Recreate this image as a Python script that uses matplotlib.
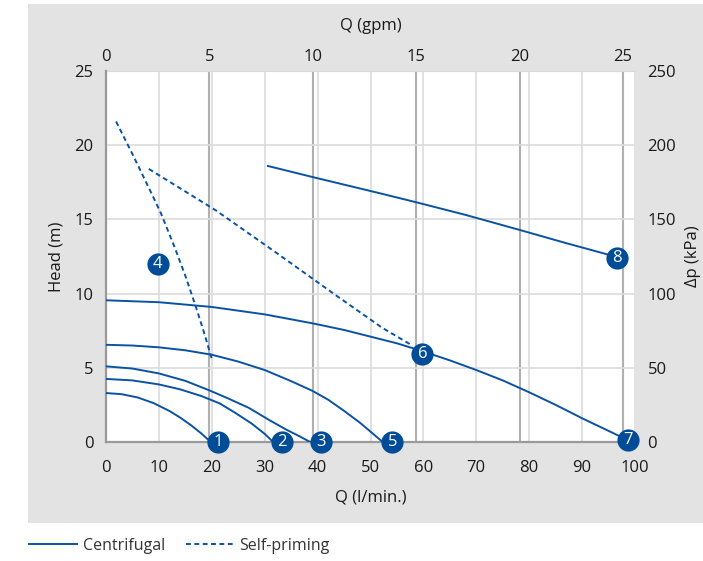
import matplotlib
matplotlib.use('Agg')
import matplotlib.pyplot as plt
from matplotlib.patches import Rectangle
from matplotlib.lines import Line2D

plt.rcParams['font.family'] = ['Open Sans', 'DejaVu Sans']

# 曲线数据 (Q l/min, Head m)
c1_q = [0, 3, 6, 9, 12, 14, 16, 18, 19.8]
c1_h = [3.3, 3.22, 3.0, 2.62, 2.09, 1.65, 1.15, 0.58, 0]

c2_q = [0, 5, 10, 14, 18, 21.5, 24.5, 27.5, 30, 31.6]
c2_h = [4.25, 4.15, 3.88, 3.55, 3.1, 2.6, 1.95, 1.25, 0.55, 0]

c3_q = [0, 5, 10, 15, 19.4, 23, 27, 31, 34, 36.5, 38.6]
c3_h = [5.1, 4.95, 4.62, 4.12, 3.5, 2.95, 2.3, 1.45, 0.85, 0.4, 0]

c5_q = [0, 5, 10, 15, 20, 25, 30, 35, 39, 42, 45, 48, 50, 52.3]
c5_h = [6.55, 6.5, 6.38, 6.18, 5.88, 5.42, 4.85, 4.1, 3.45, 2.85, 2.1, 1.3, 0.7, 0]

c67_q = [0, 10, 20, 30, 39, 45, 50, 55, 60, 65, 70, 75, 80, 85, 90, 95, 98.5]
c67_h = [9.55, 9.42, 9.1, 8.6, 8.0, 7.55, 7.1, 6.65, 6.1, 5.5, 4.85, 4.15, 3.35,
         2.5, 1.6, 0.75, 0.15]

c8_q = [30.6, 39.1, 51.9, 58.7, 68, 78.1, 87, 94.7, 96.6]
c8_h = [18.6, 17.85, 16.75, 16.15, 15.3, 14.3, 13.4, 12.65, 12.45]

# 自吸泵 (虚线)
sp1_q = [1.9, 5, 8, 10.4, 13, 15, 17, 18.6, 20.0]
sp1_h = [21.6, 19.4, 17.2, 15.4, 13.1, 11.2, 9.1, 7.3, 5.6]
sp2_q = [8.1, 20.8, 32, 43.8, 52.2, 57.9]
sp2_h = [18.4, 15.6, 12.8, 9.8, 7.7, 6.5]

# 编号标记
mark_labels = ['1', '2', '3', '4', '5', '6', '7', '8']
mark_q = [21.2, 33.3, 40.6, 9.8, 54.1, 59.8, 98.7, 96.6]
mark_h = [0, 0, 0, 12.0, 0, 5.95, 0.15, 12.4]

x_ticks = [0, 10, 20, 30, 40, 50, 60, 70, 80, 90, 100]
gpm_ticks = [0, 5, 10, 15, 20, 25]
y_ticks = [0, 5, 10, 15, 20, 25]
kpa_ticks = [0, 50, 100, 150, 200, 250]

BLUE = '#0A52A3'
MARK = '#004C97'
TXT = '#1a1a1a'


def main():
    # 整个图灰色，四周再补白边
    fig = plt.figure(figsize=(7.03, 5.61), dpi=100, facecolor='#e3e3e3')
    for r in [(0, 0, 28 / 703, 1), (0, 0, 1, 38 / 561), (0, 1 - 4 / 561, 1, 4 / 561)]:
        fig.patches.append(Rectangle((r[0], r[1]), r[2], r[3],
                                     transform=fig.transFigure, facecolor='white',
                                     edgecolor='none', zorder=0))

    ax = fig.add_axes([106 / 703, 119 / 561, 529 / 703, 371 / 561])
    ax_t = ax.twiny()
    ax_r = ax.twinx()

    ax_t.set_zorder(1)
    ax_r.set_zorder(2)
    ax.set_zorder(3)
    ax.patch.set_visible(False)
    ax_r.patch.set_visible(False)
    ax_t.patch.set_visible(False)
    # 白色绘图区，放在最底层的轴里
    ax_t.add_patch(Rectangle((0, 0), 1, 1, transform=ax_t.transAxes,
                             facecolor='white', edgecolor='none', zorder=-5))

    # 曲线
    for q, h in [(c1_q, c1_h), (c2_q, c2_h), (c3_q, c3_h), (c5_q, c5_h),
                 (c67_q, c67_h), (c8_q, c8_h)]:
        ax.plot(q, h, color=BLUE, lw=1.4, zorder=3)
    for q, h in [(sp1_q, sp1_h), (sp2_q, sp2_h)]:
        ax.plot(q, h, color=BLUE, lw=1.4, ls=(0, (2.5, 1.8)), zorder=3)

    for lab, q, h in zip(mark_labels, mark_q, mark_h):
        ax.plot(q, h, 'o', ms=16, color=MARK, mec='none', zorder=5, clip_on=False)
        ax.text(q, h, lab, color='white', fontsize=12, ha='center', va='center',
                zorder=6, clip_on=False)

    # 坐标轴
    ax.set_xlim(0, 100)
    ax.set_ylim(0, 25)
    ax.set_xticks(x_ticks)
    ax.set_yticks(y_ticks)
    ax.grid(True, color='#dcdcdc', lw=1.2)
    ax.set_axisbelow(True)
    ax.tick_params(length=0, labelsize=12, colors=TXT)
    ax.tick_params(axis='x', pad=13)
    ax.tick_params(axis='y', pad=9)
    ax.set_xlabel('Q (l/min.)', fontsize=12, color=TXT, labelpad=10)
    ax.set_ylabel('Head (m)', fontsize=12, color=TXT, labelpad=7)

    ax_t.set_xlim(0, 25.58)
    ax_t.set_xticks(gpm_ticks)
    ax_t.grid(True, axis='x', color='#b0b0b0', lw=1.5)
    ax_t.tick_params(length=0, labelsize=12, colors=TXT, pad=4)
    ax_t.set_xlabel('Q (gpm)', fontsize=12, color=TXT, labelpad=14)

    ax_r.set_ylim(0, 250)
    ax_r.set_yticks(kpa_ticks)
    ax_r.tick_params(length=0, labelsize=12, colors=TXT, pad=9)
    ax_r.set_ylabel('Δp (kPa)', fontsize=12, color=TXT, labelpad=6)

    for a in (ax, ax_t, ax_r):
        for s in a.spines.values():
            s.set_visible(False)
    ax.spines['left'].set_visible(True)
    ax.spines['bottom'].set_visible(True)
    ax.spines['left'].set_color('#9a9a9a')
    ax.spines['bottom'].set_color('#9a9a9a')
    ax.spines['left'].set_linewidth(1.6)
    ax.spines['bottom'].set_linewidth(1.6)
    ax_t.spines['top'].set_visible(True)
    ax_t.spines['top'].set_color('#d6d6d6')

    # 图例
    handles = [Line2D([], [], color=BLUE, lw=1.4),
               Line2D([], [], color=BLUE, lw=1.4, ls=(0, (2.5, 1.8)))]
    fig.legend(handles, ['Centrifugal', 'Self-priming'], loc='center left',
               bbox_to_anchor=(15 / 703, 1 - 546 / 561), ncol=2, frameon=False,
               fontsize=11.5, handlelength=3.0, handletextpad=0.35,
               columnspacing=1.3, labelcolor='#333333')

    plt.savefig('out.png', dpi=100)


if __name__ == "__main__":
    main()
